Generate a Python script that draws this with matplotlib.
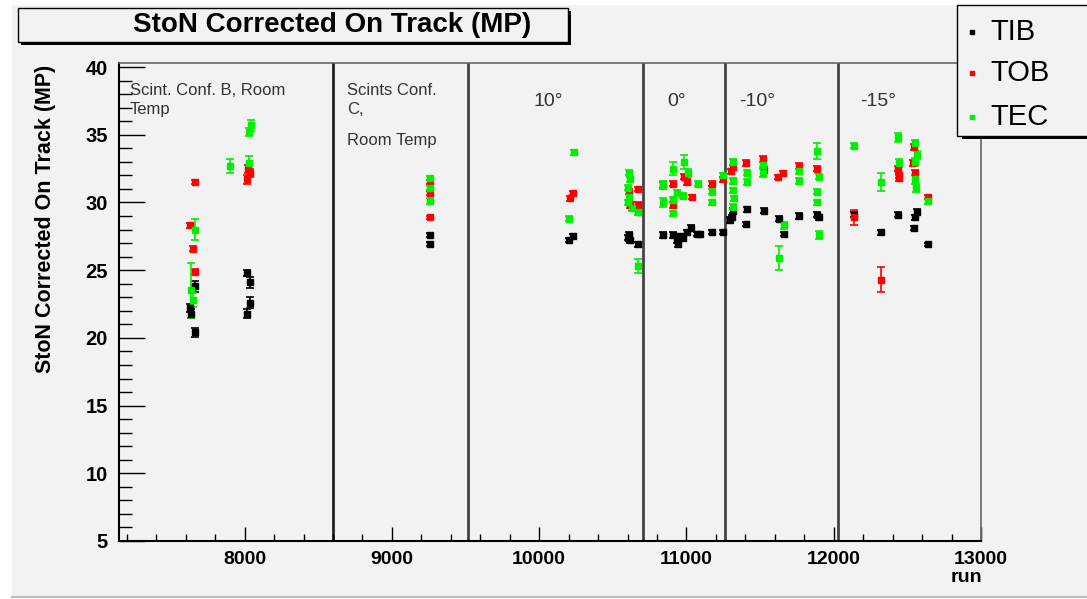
import matplotlib.pyplot as plt
import matplotlib.patches as patches
from matplotlib.lines import Line2D
from matplotlib.ticker import MultipleLocator

plt.rcParams['font.family'] = ['Liberation Sans', 'DejaVu Sans']

# data
tib_run = [7663, 7629, 7636, 7663, 8017, 8037, 8037, 8017,
           9260, 9262, 10231, 10204,
           10605, 10611, 10618, 10673,
           10842, 10910, 10937, 10944, 10958, 10978, 11005, 11032, 11073, 11094, 11175, 11250,
           11318, 11311, 11298, 11413, 11406, 11528, 11630, 11664, 11766, 11888, 11902,
           12140, 12323, 12439, 12568, 12554, 12548, 12643]
tib_val = [23.8, 22.2, 21.8, 20.4, 24.8, 24.1, 22.6, 21.8,
           27.6, 26.9, 27.5, 27.2,
           27.4, 27.6, 27.2, 26.9,
           27.6, 27.6, 27.2, 26.9, 27.5, 27.4, 27.8, 28.1, 27.7, 27.7, 27.8, 27.8,
           29.4, 28.9, 28.7, 29.5, 28.4, 29.4, 28.8, 27.7, 29.0, 29.1, 28.9,
           29.1, 27.8, 29.1, 29.3, 28.9, 28.1, 26.9]
tib_err = [0.4, 0.3, 0.3, 0.3, 0.2, 0.4, 0.4, 0.3,
           0.15, 0.15, 0.15, 0.15,
           0.2, 0.2, 0.2, 0.2,
           0.2, 0.2, 0.2, 0.2, 0.2, 0.2, 0.2, 0.2, 0.15, 0.15, 0.15, 0.15,
           0.2, 0.2, 0.2, 0.2, 0.15, 0.2, 0.2, 0.15, 0.2, 0.2, 0.2,
           0.2, 0.2, 0.2, 0.2, 0.2, 0.15, 0.1]

tob_run = [7663, 7629, 7650, 7663, 8023, 8037, 8017,
           9260, 9261, 9262, 10231, 10210,
           10611, 10673, 10618, 10670,
           10842, 10910, 10985, 11005, 10912, 11039, 11175, 11250,
           11318, 11304, 11406, 11522, 11524, 11623, 11657, 11766, 11888,
           12140, 12323, 12439, 12441, 12445, 12541, 12554, 12548, 12643]
tob_val = [31.5, 28.3, 26.6, 24.9, 32.5, 32.2, 31.7,
           31.5, 30.7, 28.9, 30.7, 30.3,
           30.8, 31.0, 29.8, 29.8,
           31.3, 31.4, 31.9, 31.5, 29.8, 30.4, 31.4, 31.7,
           32.6, 32.3, 32.9, 33.2, 32.4, 31.9, 32.2, 32.7, 32.5,
           28.9, 24.3, 32.5, 32.0, 31.8, 32.9, 32.2, 34.1, 30.4]
tob_err = [0.15, 0.2, 0.2, 0.2, 0.3, 0.3, 0.3,
           0.15, 0.15, 0.1, 0.15, 0.2,
           0.2, 0.15, 0.2, 0.2,
           0.2, 0.2, 0.2, 0.2, 0.2, 0.15, 0.15, 0.2,
           0.2, 0.2, 0.2, 0.2, 0.2, 0.15, 0.15, 0.2, 0.2,
           0.55, 0.9, 0.2, 0.2, 0.2, 0.2, 0.2, 0.2, 0.15]

tec_run = [8040, 8030, 7901, 8030, 7663, 7636, 7650,
           9260, 9262, 9261, 10238, 10204,
           10611, 10618, 10605, 10612, 10606, 10632, 10673, 10673,
           10842, 10843, 10910, 10985, 11012, 10937, 10911, 10909, 10978, 11080, 11175, 11176, 11250,
           11318, 11319, 11317, 11320, 11316, 11413, 11414, 11522, 11523, 11664, 11630, 11766, 11767,
           11888, 11902, 11889, 11887, 11903,
           12140, 12323, 12439, 12440, 12554, 12568, 12555, 12553, 12561, 12643]
tec_val = [35.7, 35.2, 32.7, 32.9, 28.0, 23.5, 22.8,
           31.8, 31.1, 30.1, 33.7, 28.8,
           32.2, 31.7, 31.1, 30.4, 30.0, 29.6, 29.3, 25.3,
           31.3, 30.0, 32.5, 33.0, 32.2, 30.7, 30.2, 29.2, 30.5, 31.4, 30.8, 30.0, 32.0,
           33.0, 31.6, 30.9, 30.3, 29.7, 32.2, 31.5, 32.8, 32.2, 28.3, 25.9, 32.3, 31.6,
           33.8, 31.9, 30.8, 30.0, 27.6,
           34.2, 31.5, 34.8, 32.9, 34.4, 33.5, 33.0, 31.7, 31.1, 30.1]
tec_err = [0.4, 0.3, 0.5, 0.5, 0.8, 2.0, 0.5,
           0.15, 0.15, 0.2, 0.2, 0.2,
           0.2, 0.2, 0.2, 0.2, 0.2, 0.2, 0.2, 0.5,
           0.3, 0.3, 0.5, 0.5, 0.3, 0.2, 0.2, 0.2, 0.2, 0.2, 0.2, 0.2, 0.2,
           0.2, 0.2, 0.2, 0.2, 0.2, 0.2, 0.2, 0.2, 0.3, 0.25, 0.9, 0.2, 0.2,
           0.6, 0.2, 0.2, 0.2, 0.3,
           0.2, 0.65, 0.3, 0.3, 0.2, 0.3, 0.3, 0.3, 0.3, 0.2]

separators = [8601, 9518, 10707, 11264, 12032]
degree_labels = ['10°', '0°', '-10°', '-15°']
degree_x = [10061, 10931, 11481, 12303]

bg = '#f2f2f2'
W, H = 1087, 599
fig = plt.figure(figsize=(W / 100, H / 100), dpi=100, facecolor='white')

def px(x0, y0, x1, y1):
    # pixel box (top-left origin) -> figure rect
    return (x0 / W, 1 - y1 / H, (x1 - x0) / W, (y1 - y0) / H)

def box(x0, y0, x1, y1, **kw):
    r = px(x0, y0, x1, y1)
    fig.patches.append(patches.Rectangle(r[:2], r[2], r[3], transform=fig.transFigure, **kw))

# canvas background
box(12, 5, 1087, 597, facecolor=bg, edgecolor='none', zorder=-5)
fig.add_artist(Line2D([12 / W, 1], [1 - 597 / H] * 2, color='#bbbbbb', lw=1.5))

ax = fig.add_axes([119 / W, 1 - 541 / H, (981 - 119) / W, (541 - 63) / H])
ax.set_facecolor(bg)
ax.set_xlim(7147, 13000)
ax.set_ylim(5, 40.3)
for s in ['top', 'right']:
    ax.spines[s].set_linewidth(1.2)
    ax.spines[s].set_color('#666666')
for s in ['left', 'bottom']:
    ax.spines[s].set_linewidth(1.5)

for xs in separators:
    ax.axvline(xs, color='#222222' if xs == separators[0] else '#444444', lw=2, zorder=1)

ax.xaxis.set_major_locator(MultipleLocator(1000))
ax.xaxis.set_minor_locator(MultipleLocator(200))
ax.yaxis.set_major_locator(MultipleLocator(5))
ax.yaxis.set_minor_locator(MultipleLocator(1))
ax.tick_params(axis='x', which='major', direction='in', length=10, width=1, labelsize=14, pad=7)
ax.tick_params(axis='x', which='minor', direction='in', length=5, width=1)
ax.tick_params(axis='y', which='major', direction='in', length=18.6, width=1, labelsize=14.5, pad=8)
ax.tick_params(axis='y', which='minor', direction='in', length=9.3, width=1)
for lab in ax.get_xticklabels() + ax.get_yticklabels():
    lab.set_fontweight('bold')

for r, v, e, c in [(tib_run, tib_val, tib_err, '#000000'),
                   (tob_run, tob_val, tob_err, '#ff0000'),
                   (tec_run, tec_val, tec_err, '#00ee00')]:
    ax.errorbar(r, v, yerr=e, fmt='s', ms=4.3, color=c, ecolor=c, elinewidth=1.2,
                capsize=3, capthick=1.2, zorder=3)

ax.text(7222, 38.85, 'Scint. Conf. B, Room\nTemp', fontsize=12, color='#333333',
        va='top', ha='left', linespacing=1.35)
ax.text(8696, 38.85, 'Scints Conf.\nC,', fontsize=12, color='#333333',
        va='top', ha='left', linespacing=1.35)
ax.text(8696, 35.1, 'Room Temp', fontsize=12, color='#333333', va='top', ha='left')
for lab, xd in zip(degree_labels, degree_x):
    ax.text(xd, 37.45, lab, fontsize=14, color='#333333', ha='center', va='center')

fig.text(46 / W, 1 - 65 / H, 'StoN Corrected On Track (MP)', rotation=90, ha='center', va='top',
         fontsize=15.5, fontweight='bold')
fig.text(982 / W, 1 - 578 / H, 'run', ha='right', va='center', fontsize=14, fontweight='bold')

# title box with shadow
box(21, 11, 571, 45, facecolor='black', edgecolor='none', zorder=5)
box(18, 8, 568, 42, facecolor=bg, edgecolor='black', lw=1, zorder=6)
fig.text(332 / W, 1 - 25 / H, 'StoN Corrected On Track (MP)', ha='center', va='center',
         fontsize=20, fontweight='bold', zorder=7)

# legend box with shadow
box(962, 10, 1090, 139, facecolor='black', edgecolor='none', zorder=5)
box(957, 5, 1090, 136, facecolor=bg, edgecolor='black', lw=1, zorder=6)
for name, c, yy in [('TIB', '#000000', 32), ('TOB', '#ff0000', 73), ('TEC', '#00ee00', 117)]:
    fig.add_artist(Line2D([972 / W], [1 - yy / H], marker='s', ms=3.5, color=c, ls='none', zorder=7))
    fig.text(990 / W, 1 - yy / H, name, ha='left', va='center', fontsize=21, zorder=7)

fig.savefig('out.png', dpi=100)
